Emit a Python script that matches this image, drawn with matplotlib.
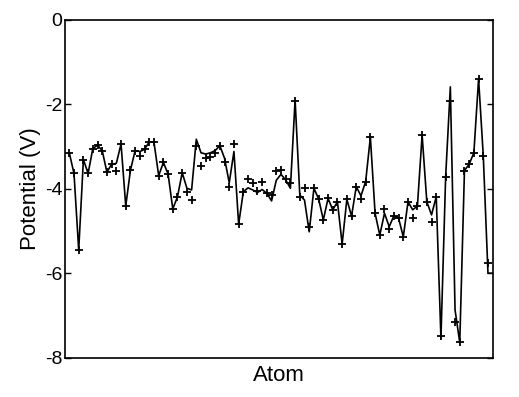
import numpy as np
import matplotlib
matplotlib.use('Agg')
import matplotlib.pyplot as plt

plt.rcParams['font.family'] = ['Liberation Sans', 'DejaVu Sans']

# values at the '+' markers (one per atom)
marker_vals = [
    -3.15, -3.64, -5.45, -3.31, -3.64, -3.05, -2.97, -3.10, -3.61, -3.42,
    -3.57, -2.94, -4.41, -3.56, -3.10, -3.23, -3.07, -2.89, -2.90, -3.69,
    -3.38, -3.65, -4.48, -4.19, -3.62, -4.09, -4.27, -2.98, -3.46, -3.28,
    -3.26, -3.16, -3.00, -3.38, -3.95, -2.94, -4.84, -4.07, -3.76, -3.87,
    -4.05, -3.83, -4.11, -4.15, -3.57, -3.56, -3.76, -3.87, -1.92, -4.19,
    -3.99, -4.90, -3.99, -4.24, -4.74, -4.23, -4.50, -4.31, -5.31, -4.25,
    -4.65, -3.95, -4.25, -3.83, -2.78, -4.58, -5.10, -4.47, -4.96, -4.64,
    -4.70, -5.14, -4.31, -4.70, -4.41, -2.73, -4.31, -4.78, -4.19, -7.49,
    -3.72, -1.92, -7.15, -7.64, -3.57, -3.42, -3.15, -1.40, -3.22, -5.77,
]

# values of the solid line (one more point at the end)
line_vals = [
    -3.15, -3.64, -5.45, -3.31, -3.64, -3.05, -2.97, -3.10, -3.61, -3.42,
    -3.40, -2.94, -4.41, -3.56, -3.10, -3.12, -3.07, -2.89, -2.90, -3.69,
    -3.38, -3.65, -4.48, -4.19, -3.62, -3.99, -4.03, -2.83, -3.15, -3.18,
    -3.15, -3.10, -2.98, -3.28, -3.86, -3.12, -4.84, -4.07, -3.98, -4.03,
    -4.09, -4.02, -4.11, -4.29, -3.80, -3.66, -3.79, -3.99, -1.90, -4.15,
    -4.27, -5.02, -3.99, -4.24, -4.74, -4.23, -4.50, -4.31, -5.31, -4.25,
    -4.65, -3.95, -4.17, -3.83, -2.78, -4.58, -5.10, -4.58, -4.90, -4.64,
    -4.70, -5.14, -4.31, -4.50, -4.41, -2.73, -4.31, -4.62, -4.19, -7.54,
    -3.72, -1.59, -6.87, -7.64, -3.57, -3.42, -3.15, -1.40, -3.22, -6.00,
    -6.00,
]

marker_x = np.arange(1, len(marker_vals) + 1)
line_x = np.arange(1, len(line_vals) + 1)

fig = plt.figure(figsize=(5.19, 3.97), dpi=100)
ax = fig.add_axes([0.1258, 0.099, 0.8235, 0.8514])

ax.plot(line_x, line_vals, color='black', linewidth=1.2)
ax.plot(marker_x, marker_vals, linestyle='none', marker='+', color='black',
        markersize=6, markeredgewidth=1.3)

ax.set_xlim(0.15, 91.0)
ax.set_ylim(-8, 0)
ax.set_yticks([0, -2, -4, -6, -8])
ax.set_yticklabels(['0', '-2', '-4', '-6', '-8'])
ax.set_xticks([])
ax.tick_params(axis='y', direction='in', length=4, width=1, right=True,
               labelsize=14, pad=2)
for sp in ax.spines.values():
    sp.set_linewidth(1.2)

ax.set_xlabel('Atom', fontsize=16, labelpad=5)
ax.set_ylabel('Potential (V)', fontsize=16, labelpad=3)

fig.savefig('out.png', dpi=100)
